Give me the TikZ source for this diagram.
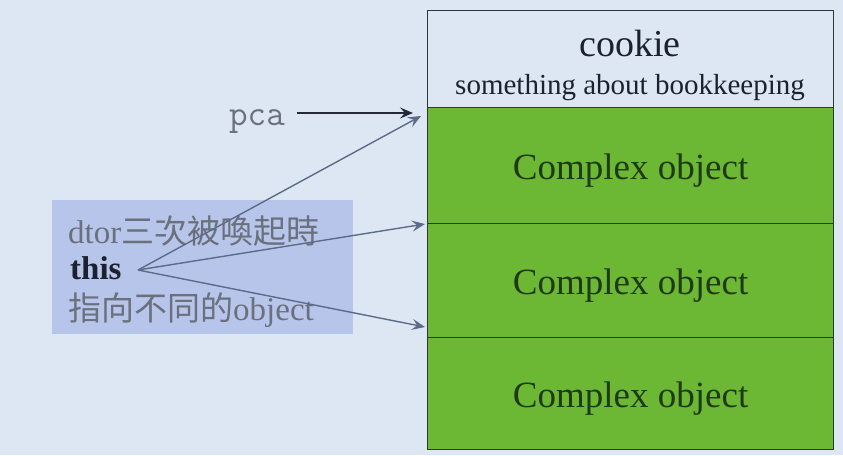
\documentclass[tikz,border=0pt]{standalone}
\usepackage{fontspec}
\setmainfont{Liberation Serif}
\newfontfamily\cjk{Noto Sans CJK TC}
\usetikzlibrary{arrows.meta}
\definecolor{bgblue}{HTML}{DDE7F4}
\definecolor{notebox}{HTML}{B8C5EB}
\definecolor{objgreen}{HTML}{6CB733}
\definecolor{objtext}{HTML}{1E3A14}
\definecolor{edgecol}{HTML}{2C3A30}
\definecolor{graytext}{HTML}{6A707C}
\definecolor{darktext}{HTML}{1C2130}
\definecolor{ptrgray}{HTML}{5C6B86}
\definecolor{ptrdark}{HTML}{23283A}
\tikzset{
  section/.style={draw=edgecol, line width=1.2pt, minimum width=406pt, inner sep=0pt, anchor=north west},
  objsec/.style={section, fill=objgreen, text=objtext, font=\fontsize{37}{40}\selectfont, text height=30pt, text depth=2pt},
  ptr/.style={draw=ptrgray, line width=1.4pt, -{Stealth[length=13pt,width=11pt,inset=5pt]}},
  ptrd/.style={draw=ptrdark, line width=1.4pt, -{Stealth[length=13pt,width=11pt,inset=5pt]}},
  notetext/.style={anchor=base west, inner sep=0pt, font=\fontsize{33}{36}\selectfont},
  celltext/.style={anchor=base, inner sep=0pt, text=darktext},
}
\begin{document}
\begin{tikzpicture}[x=1pt,y=-1pt]
\fill[bgblue] (0,0) rectangle (843,455);
\useasboundingbox (0,0) rectangle (843,455);
% memory block
\node[section, fill=bgblue, minimum height=97pt] (cookie) at (427,10) {};
\node[celltext, font=\fontsize{38}{40}\selectfont] (cookiet) at (630,56) {cookie};
\node[celltext, font=\fontsize{29}{32}\selectfont] (bookt) at (630,94) {something about bookkeeping};
\node[objsec, minimum height=116pt] (obj1) at (427,107) {Complex object};
\node[objsec, minimum height=114pt] (obj2) at (427,223) {Complex object};
\node[objsec, minimum height=112pt] (obj3) at (427,337) {Complex object};
% note box
\node[fill=notebox, minimum width=301pt, minimum height=134pt, inner sep=0pt, anchor=north west] (note) at (52,200) {};
\node[notetext, text=graytext] (line1) at (68,243) {dtor{\cjk 三次被喚起時}};
\node[notetext, text=darktext, font=\fontsize{33}{36}\selectfont\bfseries] (this) at (70,279) {this};
\node[notetext, text=graytext] (line3) at (68,320) {{\cjk 指向不同的}object};
% pca
\node[anchor=base west, inner sep=0pt, text=graytext, font=\fontsize{36}{40}\ttfamily] (pca) at (229,125) {pca};
\coordinate (src) at (138,270);
\coordinate (t1) at (421,116);
\coordinate (t2) at (425,224);
\coordinate (t3) at (425,327);
\coordinate (p1) at (413,113);
\draw[ptrd] ([xshift=12pt]pca.east |- p1) -- (p1);
\draw[ptr] (src) -- (t1);
\draw[ptr] (src) -- (t2);
\draw[ptr] (src) -- (t3);
\end{tikzpicture}
\end{document}
